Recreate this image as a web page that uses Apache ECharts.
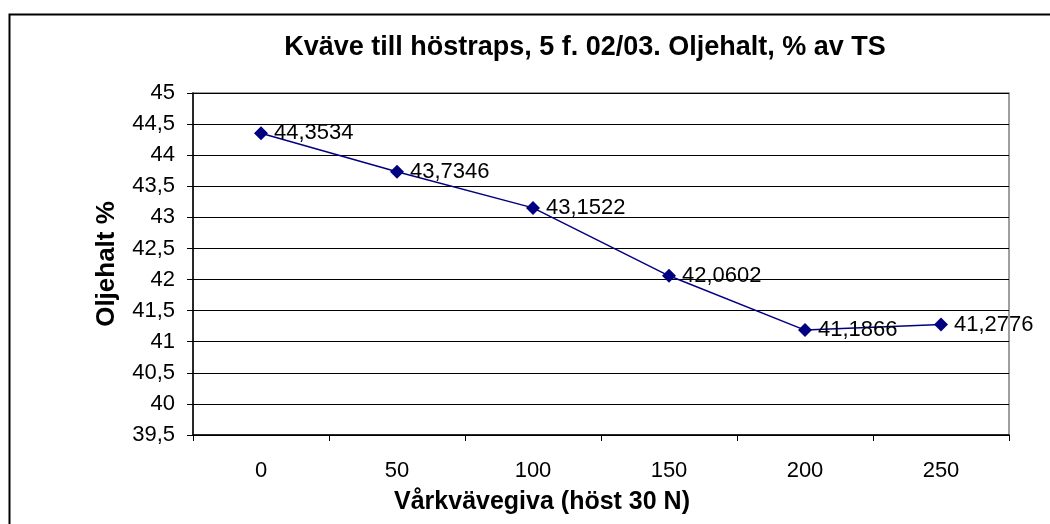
<!DOCTYPE html>
<html lang="sv">
<head>
    <meta charset="UTF-8">
    <title>Oljehalt</title>
    <style>
        html, body { margin: 0; padding: 0; background: #fff; }
        #chart { width: 1050px; height: 524px; }
    </style>
</head>
<body>
    <div id="chart"></div>
    <script src="https://cdn.jsdelivr.net/npm/echarts@6/dist/echarts.min.js"></script>
    <script>
        var categories = ['0', '50', '100', '150', '200', '250'];
        var oljehalt = [44.3534, 43.7346, 43.1522, 42.0602, 41.1866, 41.2776];

        var font = 'Liberation Sans, Arial, sans-serif';
        function komma(v) { return String(v).replace('.', ','); }

        var chart = echarts.init(document.getElementById('chart'));
        var option = {
            backgroundColor: '#fff',
            animation: false,
            title: {
                text: 'Kväve till höstraps, 5 f. 02/03. Oljehalt, % av TS',
                left: 580,
                top: 29,
                textAlign: 'center',
                textStyle: { fontFamily: font, fontSize: 27, fontWeight: 'bold', color: '#000' }
            },
            graphic: [{
                type: 'rect',
                left: 7, top: 12,
                shape: { width: 1100, height: 600 },
                style: { fill: null, stroke: '#000', lineWidth: 2 }
            }],
            grid: {
                left: 193, right: 41, top: 93, bottom: 89,
                outerBoundsMode: 'none',
                containLabel: false,
                show: true, borderColor: '#808080', borderWidth: 1.5, backgroundColor: '#fff'
            },
            xAxis: {
                type: 'category',
                data: categories,
                boundaryGap: true,
                name: 'Vårkvävegiva (höst 30 N)',
                nameLocation: 'middle',
                nameGap: 55,
                nameTextStyle: { fontFamily: font, fontSize: 25, fontWeight: 'bold', color: '#000', padding: [0, 118, 0, 0] },
                axisLine: { lineStyle: { color: '#000', width: 1.5 } },
                axisTick: { show: true, length: 6, lineStyle: { color: '#000' } },
                axisLabel: { fontFamily: font, fontSize: 22, color: '#000', margin: 25 },
                splitLine: { show: false }
            },
            yAxis: {
                type: 'value',
                min: 39.5, max: 45, interval: 0.5,
                name: 'Oljehalt %',
                nameLocation: 'middle',
                nameRotate: 90,
                nameGap: 73,
                nameTextStyle: { fontFamily: font, fontSize: 26, fontWeight: 'bold', color: '#000' },
                axisLine: { show: true, lineStyle: { color: '#000', width: 1.5 } },
                axisTick: { show: true, length: 6, lineStyle: { color: '#000' } },
                axisLabel: { fontFamily: font, fontSize: 22, color: '#000', margin: 18, formatter: komma },
                splitLine: { show: true, lineStyle: { color: '#000', width: 1 } }
            },
            series: [{
                type: 'line',
                data: oljehalt,
                symbol: 'diamond',
                symbolSize: 14,
                itemStyle: { color: '#000080' },
                lineStyle: { color: '#000080', width: 1.5 },
                label: {
                    show: true,
                    position: 'right',
                    distance: 6,
                    fontFamily: font,
                    fontSize: 22,
                    color: '#000',
                    formatter: function (p) { return komma(p.value); }
                }
            }]
        };
        chart.setOption(option);
    </script>
</body>
</html>
